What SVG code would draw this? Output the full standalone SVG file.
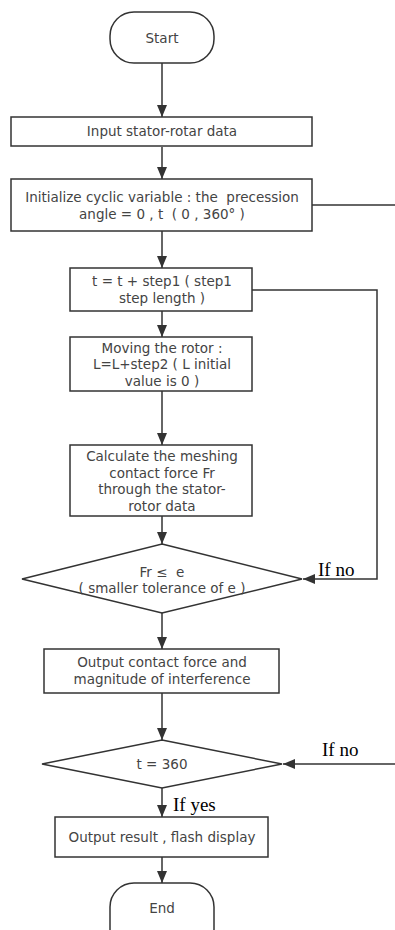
<svg xmlns="http://www.w3.org/2000/svg" width="395" height="930" viewBox="0 0 395 930">
<style>
.n{fill:#fff;stroke:#333;stroke-width:1.5}
.t{font-family:"DejaVu Sans",sans-serif;font-size:13.5px;fill:#444;text-anchor:middle}
.c{fill:none;stroke:#333;stroke-width:1.5}
.l{font-family:"Liberation Serif",serif;font-size:19px;fill:#000}
</style>
<defs>
<marker id="ah" viewBox="0 0 12 10" refX="12" refY="5" markerWidth="14" markerHeight="10" markerUnits="userSpaceOnUse" orient="auto">
<path d="M0,0 L12,5 L0,10 Z" fill="#333"/>
</marker>
</defs>
<g id="connectors">
<line class="c" x1="162" y1="63" x2="162" y2="117" marker-end="url(#ah)"/>
<line class="c" x1="162" y1="147" x2="162" y2="179" marker-end="url(#ah)"/>
<line class="c" x1="312" y1="205" x2="395" y2="205"/>
<line class="c" x1="162" y1="231" x2="162" y2="268" marker-end="url(#ah)"/>
<polyline class="c" points="252,290 377,290 377,579 303,579" marker-end="url(#ah)"/>
<line class="c" x1="162" y1="311" x2="162" y2="337" marker-end="url(#ah)"/>
<line class="c" x1="162" y1="391" x2="162" y2="445" marker-end="url(#ah)"/>
<line class="c" x1="162" y1="516" x2="162" y2="544" marker-end="url(#ah)"/>
<line class="c" x1="162" y1="613" x2="162" y2="649" marker-end="url(#ah)"/>
<line class="c" x1="162" y1="693" x2="162" y2="740" marker-end="url(#ah)"/>
<line class="c" x1="395" y1="764" x2="283" y2="764" marker-end="url(#ah)"/>
<line class="c" x1="162" y1="788" x2="162" y2="817" marker-end="url(#ah)"/>
<line class="c" x1="162" y1="857" x2="162" y2="883" marker-end="url(#ah)"/>
<text class="l" x="318" y="576">If no</text>
<text class="l" x="322" y="756">If no</text>
<text class="l" x="173" y="811">If yes</text>
</g>
<g id="start">
<rect class="n" x="110" y="12" width="104" height="51" rx="24" ry="24"/>
<text class="t" x="162" y="43">Start</text>
</g>
<g id="input">
<rect class="n" x="11" y="117" width="301" height="29"/>
<text class="t" x="162" y="136">Input stator-rotar data</text>
</g>
<g id="init">
<rect class="n" x="11" y="179" width="301" height="52"/>
<text class="t" x="162" y="202" xml:space="preserve">Initialize cyclic variable : the  precession</text>
<text class="t" x="162" y="219" xml:space="preserve">angle = 0 , t  ( 0 , 360° )</text>
</g>
<g id="step">
<rect class="n" x="70" y="268" width="182" height="43"/>
<text class="t" x="162" y="286">t = t + step1 ( step1</text>
<text class="t" x="162" y="303">step length )</text>
</g>
<g id="move">
<rect class="n" x="70" y="337" width="182" height="54"/>
<text class="t" x="162" y="353">Moving the rotor :</text>
<text class="t" x="162" y="369">L=L+step2 ( L initial</text>
<text class="t" x="162" y="386">value is 0 )</text>
</g>
<g id="calc">
<rect class="n" x="70" y="445" width="182" height="71"/>
<text class="t" x="162" y="461">Calculate the meshing</text>
<text class="t" x="162" y="478">contact force Fr</text>
<text class="t" x="162" y="494">through the stator-</text>
<text class="t" x="162" y="511">rotor data</text>
</g>
<g id="check">
<polygon class="n" points="162,544 302,579 162,613 22,579"/>
<text class="t" x="162" y="577" xml:space="preserve">Fr ≤  e</text>
<text class="t" x="162" y="593">( smaller tolerance of e )</text>
</g>
<g id="outforce">
<rect class="n" x="44" y="649" width="235" height="44"/>
<text class="t" x="162" y="667">Output contact force and</text>
<text class="t" x="162" y="684">magnitude of interference</text>
</g>
<g id="t360">
<polygon class="n" points="162,740 282,764 162,788 42,764"/>
<text class="t" x="162" y="769">t = 360</text>
</g>
<g id="result">
<rect class="n" x="55" y="817" width="213" height="40"/>
<text class="t" x="162" y="842">Output result , flash display</text>
</g>
<g id="end">
<rect class="n" x="110" y="883" width="104" height="70" rx="24" ry="24"/>
<text class="t" x="162" y="913">End</text>
</g>
</svg>
